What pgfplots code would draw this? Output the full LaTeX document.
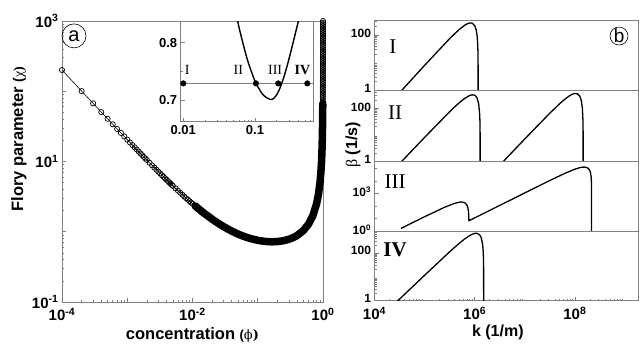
\documentclass[border=0pt]{standalone}
\usepackage{fontspec}
\setmainfont{Liberation Sans}
\newfontfamily\tms{Liberation Serif}
\newfontfamily\grk{DejaVu Serif}
\usepackage{pgfplots}
\pgfplotsset{compat=1.18}
\definecolor{axgray}{gray}{0.5}
\begin{document}
\begin{tikzpicture}
\path[use as bounding box] (0,0) rectangle (639pt,346pt);
% ---------------- left main axis
\begin{axis}[scale only axis, anchor=south west, at={(62pt,44pt)}, width=261pt, height=281pt,
  axis line style={axgray, line width=0.9pt}, tick style={axgray, line width=0.7pt},
  tick align=inside, major tick length=4pt, minor tick length=2.2pt, tick pos=left,
  xmode=log, ymode=log, xmin=1e-4, xmax=1, ymin=0.1, ymax=1000, clip=false,
  xtick={1e-4,1e-3,1e-2,1e-1,1},
  xticklabels={10\textsuperscript{-4},,10\textsuperscript{-2},,10\textsuperscript{0}},
  minor xtick={2e-4,3e-4,4e-4,5e-4,6e-4,7e-4,8e-4,9e-4,2e-3,3e-3,4e-3,5e-3,6e-3,7e-3,8e-3,9e-3,2e-2,3e-2,4e-2,5e-2,6e-2,7e-2,8e-2,9e-2,0.2,0.3,0.4,0.5,0.6,0.7,0.8,0.9},
  ytick={0.1,1,10,100,1000},
  yticklabels={10\textsuperscript{-1},,10\textsuperscript{1},,10\textsuperscript{3}},
  minor ytick={0.2,0.3,0.4,0.5,0.6,0.7,0.8,0.9,2,3,4,5,6,7,8,9,20,30,40,50,60,70,80,90,200,300,400,500,600,700,800,900},
  tick label style={font=\fontsize{15}{15}\selectfont\bfseries},
  xticklabel style={yshift=-2.5pt},
  xlabel={concentration {\fontsize{13}{13}\selectfont(\grk\mdseries ϕ\bfseries)}},
  ylabel={Flory parameter {\fontsize{14}{14}\selectfont(\tms\mdseries χ\bfseries)}},
  label style={font=\fontsize{16.5}{16.5}\selectfont\bfseries},
  xlabel style={at={(rel axis cs:0.5,-0.117)}, anchor=center},
  ylabel style={at={(rel axis cs:-0.165,0.58)}, anchor=center},
  ]
\addplot[black, line width=0.6pt, mark=o, mark size=2.6pt, mark options={fill=white, line width=0.7pt}] coordinates {
(1e-4,200.5)(2e-4,100.5)(3e-4,67.17)(4e-4,50.52)(5e-4,40.52)(6e-4,33.85)(7e-4,29.07)(8e-4,25.50)(9e-4,22.72)(1.0e-3,20.50)
(1.1e-3,18.68)(1.2e-3,17.17)(1.3e-3,15.89)(1.4e-3,14.79)(1.5e-3,13.83)(1.6e-3,13.00)(1.7e-3,12.26)(1.8e-3,11.61)(1.9e-3,11.03)(2.0e-3,10.50)
(2.2e-3,9.59)(2.4e-3,8.83)(2.6e-3,8.19)(2.8e-3,7.64)(3.0e-3,7.17)(3.2e-3,6.75)(3.4e-3,6.38)(3.6e-3,6.06)(3.8e-3,5.76)(4.0e-3,5.50)
(4.2e-3,5.26)(4.4e-3,5.05)(4.6e-3,4.85)(4.8e-3,4.67)(5.0e-3,4.50)(5.5e-3,4.14)(6e-3,3.84)(6.5e-3,3.58)(7e-3,3.36)(7.5e-3,3.17)
(8e-3,3.00)(8.5e-3,2.86)(9e-3,2.73)(9.5e-3,2.61)(1e-2,2.51)};
\addplot[black, line width=7.5pt, line join=round, line cap=round] coordinates {
(0.011,2.329)(0.012,2.173)(0.015,1.841)(0.02,1.510)(0.025,1.313)(0.03,1.182)(0.04,1.021)(0.05,0.926)(0.06,0.865)(0.07,0.823)
(0.08,0.7935)(0.1,0.7556)(0.12,0.7348)(0.14,0.7243)(0.16,0.7202)(0.18,0.7209)(0.2,0.725)(0.25,0.7467)(0.3,0.781)(0.35,0.826)
(0.4,0.883)(0.5,1.04)(0.6,1.283)(0.7,1.695)(0.8,2.525)(0.85,3.357)(0.9,5.022)(0.93,7.164)(0.95,10.02)(0.96,12.52)
(0.97,16.69)(0.98,25.02)(0.985,33.35)(0.99,50.02)(0.9925,66.69)};
\addplot[black, line width=0.6pt, mark=o, mark size=2.6pt, mark options={fill=white, line width=0.7pt}] coordinates {
(0.990024,50.12)(0.990582,53.09)(0.991108,56.23)(0.991606,59.57)(0.992076,63.10)(0.992518,66.83)(0.992937,70.79)(0.993332,74.99)
(0.993705,79.43)(0.994058,84.14)(0.994390,89.13)(0.994704,94.41)(0.995,100)(0.995279,105.9)(0.995544,112.2)(0.995795,118.9)
(0.996029,125.9)(0.996252,133.4)(0.996461,141.3)(0.996658,149.6)(0.996845,158.5)(0.997022,167.9)(0.997188,177.8)(0.997346,188.4)
(0.997494,199.5)(0.997634,211.3)(0.997767,223.9)(0.997891,237.1)(0.998010,251.2)(0.998121,266.1)(0.998226,281.8)(0.998325,298.5)
(0.998419,316.2)(0.998507,335.0)(0.998591,354.8)(0.998670,375.8)(0.998744,398.1)(0.998814,421.7)(0.998881,446.7)(0.998943,473.2)
(0.999002,501.2)(0.999058,530.9)(0.999111,562.3)(0.999161,595.7)(0.999208,631.0)(0.999252,668.3)(0.999294,707.9)(0.999333,749.9)
(0.999371,794.3)(0.999406,841.4)(0.999439,891.3)(0.999470,944.1)(0.9995,1000)};
\node[draw=black, circle, line width=0.6pt, minimum size=24pt, inner sep=0pt, font=\fontsize{20}{20}\selectfont] at (rel axis cs:0.046,0.947) {a};
\end{axis}
% ---------------- inset
\begin{axis}[scale only axis, anchor=south west, at={(180.7pt,224.3pt)}, width=132.6pt, height=100pt,
  axis line style={axgray, line width=0.9pt}, tick style={axgray, line width=0.7pt},
  tick align=inside, major tick length=4pt, minor tick length=2.2pt, tick pos=left,
  axis background/.style={fill=white},
  xmode=log, xmin=0.0092, xmax=0.65, ymin=0.662, ymax=0.837,
  xtick={0.01,0.1}, xticklabels={0.01,0.1},
  minor xtick={0.02,0.03,0.04,0.05,0.06,0.07,0.08,0.09,0.2,0.3,0.4,0.5,0.6},
  ytick={0.7,0.8}, yticklabels={0.7,0.8}, minor y tick num=1,
  tick label style={font=\fontsize{13}{13}\selectfont\bfseries},
  ]
\addplot[axgray, line width=1pt] coordinates {(0.0092,0.729)(0.65,0.729)};
\addplot[black, line width=1.4pt, smooth] coordinates {
(0.0501,0.874)(0.0562,0.843)(0.0631,0.815)(0.0794,0.768)(0.1,0.733)(0.1122,0.721)(0.1259,0.711)(0.1413,0.705)(0.1585,0.7015)(0.169,0.701)
(0.1778,0.7017)(0.1995,0.7085)(0.2239,0.7214)(0.2512,0.7391)(0.2818,0.7606)(0.3162,0.7846)(0.3548,0.810)(0.3981,0.8355)(0.4266,0.8505)};
\addplot[only marks, mark=*, mark size=2.8pt, black] coordinates {(0.01,0.729)(0.103,0.729)(0.211,0.729)(0.536,0.729)};
\node[font=\fontsize{14}{14}\selectfont\tms] at (rel axis cs:0.050,0.517) {I};
\node[font=\fontsize{14}{14}\selectfont\tms] at (rel axis cs:0.435,0.517) {II};
\node[font=\fontsize{14}{14}\selectfont\tms] at (rel axis cs:0.712,0.517) {III};
\node[font=\fontsize{14}{14}\selectfont\tms\bfseries] at (rel axis cs:0.918,0.517) {IV};
\end{axis}
% ---------------- right panel I
\begin{axis}[scale only axis, anchor=south west, at={(374.5pt,256pt)}, width=263.5pt, height=70pt,
  axis line style={axgray, line width=0.9pt}, tick style={axgray, line width=0.7pt},
  tick align=inside, major tick length=4pt, minor tick length=2.2pt, tick pos=left,
  xmode=log, ymode=log, xmin=1e4, xmax=1.82e9, ymin=1, ymax=350, xtick=\empty,
  yticklabel style={font=\fontsize{12}{12}\selectfont\bfseries, yshift=1.5pt},
  ytick={1,100}, yticklabels={1,100},
  minor ytick={2,3,4,5,6,7,8,9,20,30,40,50,60,70,80,90,200,300}]
\addplot[black, line width=1.3pt] coordinates {
(3.162e4,0.794)(1e5,7.87)(3.162e5,73.7)(3.981e5,111)(5.012e5,163)(6.310e5,225)(7.079e5,254)(7.943e5,272)(8.318e5,274)(8.913e5,268)
(1e6,219)(1.072e6,153)(1.122e6,88)(1.148e6,47)(1.161e6,24.4)(1.169e6,9.95)(1.175e6,0.01)};
\node[font=\fontsize{21}{21}\selectfont\tms] at (rel axis cs:0.070,0.614) {I};
\node[draw=black, circle, line width=0.6pt, minimum size=18pt, inner sep=0pt, font=\fontsize{19}{19}\selectfont] at (rel axis cs:0.928,0.771) {b};
\end{axis}
% ---------------- right panel II
\begin{axis}[scale only axis, anchor=south west, at={(374.5pt,185pt)}, width=263.5pt, height=71pt,
  axis line style={axgray, line width=0.9pt}, tick style={axgray, line width=0.7pt},
  tick align=inside, major tick length=4pt, minor tick length=2.2pt, tick pos=left,
  xmode=log, ymode=log, xmin=1e4, xmax=1.82e9, ymin=1, ymax=500, xtick=\empty,
  yticklabel style={font=\fontsize{12}{12}\selectfont\bfseries, yshift=1.5pt},
  ytick={1,100}, yticklabels={1,100},
  minor ytick={2,3,4,5,6,7,8,9,20,30,40,50,60,70,80,90,200,300,400},
  ylabel={{\tms\mdseries β} (1/s)},
  ylabel style={at={(rel axis cs:-0.0816,0.225)}, anchor=center, font=\fontsize{16}{16}\selectfont\bfseries}]
\addplot[black, line width=1.3pt] coordinates {
(3.162e4,0.794)(1e5,7.89)(3.162e5,74.6)(3.981e5,114)(5.012e5,169)(6.310e5,240)(7.943e5,310)(8.913e5,329)(1e6,316)(1.072e6,281)
(1.122e6,241)(1.202e6,148)(1.259e6,56.6)(1.274e6,29.3)(1.282e6,12.0)(1.288e6,0.01)};
\addplot[black, line width=1.3pt] coordinates {
(3.162e6,0.692)(1e7,6.89)(3.162e7,65.9)(5.012e7,153)(6.310e7,224)(7.943e7,308)(8.913e7,347)(1e8,370)(1.122e8,360)(1.259e8,288)
(1.349e8,192)(1.413e8,98)(1.445e8,39.4)(1.459e8,13.5)(1.466e8,0.01)};
\node[font=\fontsize{21}{21}\selectfont\tms] at (rel axis cs:0.078,0.676) {II};
\end{axis}
% ---------------- right panel III
\begin{axis}[scale only axis, anchor=south west, at={(374.5pt,115pt)}, width=263.5pt, height=70pt,
  axis line style={axgray, line width=0.9pt}, tick style={axgray, line width=0.7pt},
  tick align=inside, major tick length=4pt, minor tick length=2.2pt, tick pos=left,
  xmode=log, ymode=log, xmin=1e4, xmax=1.82e9, ymin=1, ymax=3.98e5, xtick=\empty,
  yticklabel style={font=\fontsize{12}{12}\selectfont\bfseries, yshift=1.5pt},
  ytick={1,1000}, yticklabels={10\textsuperscript{0},10\textsuperscript{3}},
  minor ytick={10,100,1e4,1e5}]
\addplot[black, line width=1.3pt] coordinates {
(3.388e4,1.62)(1e5,13.9)(2.512e5,79.6)(3.981e5,164)(5.012e5,204)(5.623e5,208)(6.310e5,184)(6.918e5,129)(7.244e5,83.6)(7.499e5,39.3)
(7.621e5,15.0)(7.656e5,7.6)(7.691e5,6.64)(1e7,1117)(3.162e7,1.099e4)(6.310e7,4.08e4)(1e8,8.81e4)(1.259e8,1.172e5)(1.413e8,1.279e5)(1.585e8,1.297e5)
(1.778e8,1.138e5)(1.950e8,7.82e4)(2.042e8,4.9e4)(2.113e8,2.04e4)(2.143e8,7.08e3)(2.158e8,0.01)};
\node[font=\fontsize{21}{21}\selectfont\tms] at (rel axis cs:0.078,0.70) {III};
\end{axis}
% ---------------- right panel IV
\begin{axis}[scale only axis, anchor=south west, at={(374.5pt,45.3pt)}, width=263.5pt, height=69.7pt,
  axis line style={axgray, line width=0.9pt}, tick style={axgray, line width=0.7pt},
  tick align=inside, major tick length=4pt, minor tick length=2.2pt, tick pos=left,
  xmode=log, ymode=log, xmin=1e4, xmax=1.82e9, ymin=1, ymax=830,
  yticklabel style={font=\fontsize{12}{12}\selectfont\bfseries, yshift=2.5pt},
  ytick={1,100}, yticklabels={1,100},
  minor ytick={2,3,4,5,6,7,8,9,20,30,40,50,60,70,80,90,200,300,400,500,600,700,800},
  xtick={1e4,1e6,1e8},
  xticklabels={10\textsuperscript{4},10\textsuperscript{6},10\textsuperscript{8}},
  minor xtick={2e4,3e4,4e4,5e4,6e4,7e4,8e4,9e4,2e5,3e5,4e5,5e5,6e5,7e5,8e5,9e5,2e6,3e6,4e6,5e6,6e6,7e6,8e6,9e6,2e7,3e7,4e7,5e7,6e7,7e7,8e7,9e7,2e8,3e8,4e8,5e8,6e8,7e8,8e8,9e8},
  xticklabel style={font=\fontsize{15}{15}\selectfont\bfseries, yshift=-3pt},
  xlabel={k (1/m)},
  xlabel style={at={(rel axis cs:0.468,-0.449)}, anchor=center, font=\fontsize{16}{16}\selectfont\bfseries}]
\addplot[black, line width=1.3pt] coordinates {
(2.512e4,0.738)(1e5,11.6)(3.162e5,112)(3.981e5,173)(5.012e5,262)(6.310e5,385)(7.943e5,535)(8.913e5,607)(1e6,659)(1.122e6,663)
(1.259e6,571)(1.349e6,438)(1.445e6,215)(1.479e6,115)(1.496e6,59.6)(1.507e6,24.3)(1.514e6,0.01)};
\node[font=\fontsize{21}{21}\selectfont\tms\bfseries] at (rel axis cs:0.078,0.727) {IV};
\end{axis}
\end{tikzpicture}
\end{document}
